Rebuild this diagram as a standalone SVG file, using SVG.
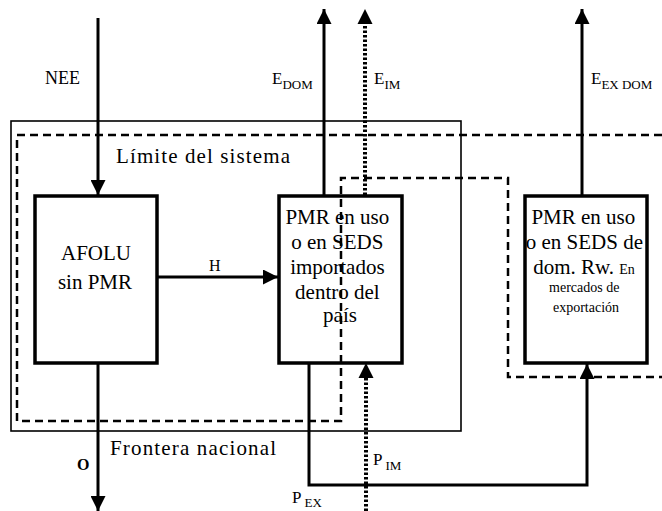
<svg xmlns="http://www.w3.org/2000/svg" width="662" height="511" viewBox="0 0 662 511" font-family="'Liberation Serif', 'Times New Roman', 'DejaVu Serif', serif">
<style>
text{font-family:'Liberation Serif','Times New Roman','DejaVu Serif',serif;fill:#000}
.big{font-size:21px}
.lbl{font-size:16px}
.sm{font-size:14px}
.box{fill:#fff;stroke:#000;stroke-width:3.5}
.ln{fill:none;stroke:#000;stroke-width:3}
.dot{fill:none;stroke:#000;stroke-width:4;stroke-dasharray:2.5 2}
.dash{fill:none;stroke:#000;stroke-width:2.5;stroke-dasharray:8 5}
.border{fill:none;stroke:#000;stroke-width:1.6}
</style>
<defs>
<marker id="ah" markerUnits="userSpaceOnUse" markerWidth="15" markerHeight="15" refX="15" refY="7.5" orient="auto" viewBox="0 0 15 15">
<path d="M0,0 L15,7.5 L0,15 z" fill="#000"/>
</marker>
</defs>
<rect width="662" height="511" fill="#fff"/>

<g id="afolu">
<rect class="box" x="35" y="196" width="122" height="167"/>
<text class="big" x="96" y="260" text-anchor="middle">AFOLU</text>
<text class="big" x="95" y="289" text-anchor="middle">sin PMR</text>
</g>

<g id="pmr-import">
<rect class="box" x="279" y="196" width="123" height="167"/>
<text class="big" text-anchor="middle">
<tspan x="340" y="224">PMR en uso</tspan>
<tspan x="340" y="249">o en SEDS</tspan>
<tspan x="340" y="274">importados</tspan>
<tspan x="340" y="299">dentro del</tspan>
<tspan x="340" y="322">país</tspan>
</text>
</g>

<g id="pmr-export">
<rect class="box" x="525" y="196" width="122" height="167"/>
<text class="big" text-anchor="middle">
<tspan x="586" y="224">PMR en uso</tspan>
<tspan x="587" y="249">o en SEDS de</tspan>
<tspan x="584" y="274">dom. Rw. <tspan class="sm">En</tspan></tspan>
</text>
<text class="sm" text-anchor="middle">
<tspan x="586" y="292">mercados de</tspan>
<tspan x="586" y="312">exportación</tspan>
</text>
</g>

<g id="boundaries">
<rect class="border" x="11" y="121" width="450" height="310"/>
<polyline class="dash" points="662,135 17,135 17,421 341,421 341,178 508,178 508,377 662,377"/>
<text class="big" x="116" y="163" textLength="174">Límite del sistema</text>
<text class="big" x="110" y="455" textLength="166">Frontera nacional</text>
</g>

<g id="connectors">
<line class="ln" x1="98" y1="18" x2="98" y2="195" marker-end="url(#ah)"/>
<line class="ln" x1="324" y1="195" x2="324" y2="9" marker-end="url(#ah)"/>
<line class="dot" x1="365" y1="195" x2="365" y2="24"/>
<path d="M357.5,24 L372.5,24 L365,9 z" fill="#000"/>
<line class="ln" x1="582" y1="195" x2="582" y2="9" marker-end="url(#ah)"/>
<line class="ln" x1="157" y1="277" x2="278" y2="277" marker-end="url(#ah)"/>
<line class="ln" x1="98" y1="363" x2="98" y2="511" marker-end="url(#ah)"/>
<polyline class="ln" points="309,363 309,485 587,485 587,364" marker-end="url(#ah)"/>
<line class="dot" x1="366" y1="511" x2="366" y2="378"/>
<path d="M358.5,378 L373.5,378 L366,363 z" fill="#000"/>
</g>

<g id="labels">
<text x="45" y="84" font-size="18">NEE</text>
<text x="272" y="84" font-size="17">E<tspan dy="5" font-size="13">DOM</tspan></text>
<text x="374" y="84" font-size="17">E<tspan dy="5" font-size="13">IM</tspan></text>
<text x="591" y="84" font-size="17">E<tspan dy="5" font-size="13">EX DOM</tspan></text>
<text class="lbl" x="209" y="271">H</text>
<text class="lbl" x="77" y="470" font-weight="bold">O</text>
<text x="373" y="465" font-size="17">P<tspan dx="3" dy="5" font-size="13">IM</tspan></text>
<text x="292" y="503" font-size="17">P<tspan dx="3" dy="4" font-size="13">EX</tspan></text>
</g>
</svg>
